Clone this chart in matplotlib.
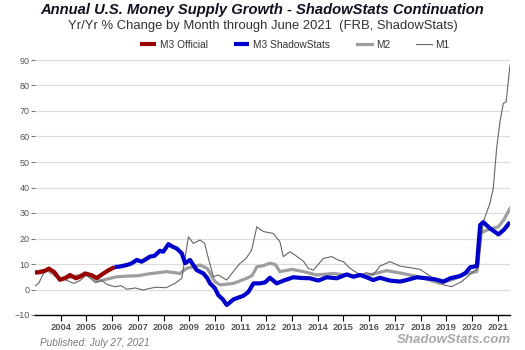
import matplotlib
matplotlib.use("Agg")
from matplotlib import pyplot

pyplot.rcParams['font.family'] = ['Liberation Sans', 'DejaVu Sans']

# values (decimal year, yr/yr %)
m3_official_x = [2003.0, 2003.2, 2003.4, 2003.54, 2003.75, 2003.97, 2004.2, 2004.36,
                 2004.6, 2004.78, 2004.95, 2005.2, 2005.4, 2005.65, 2005.85, 2006.1]
m3_official_y = [6.6, 6.8, 7.4, 8.2, 6.8, 3.8, 4.6, 5.7, 4.4, 5.2, 6.3, 5.6, 4.5, 6.2, 7.5, 8.8]

m3_shadow_x = [2006.1, 2006.3, 2006.57, 2006.75, 2006.96, 2007.15, 2007.3, 2007.47, 2007.65,
               2007.86, 2007.99, 2008.19, 2008.35, 2008.51, 2008.71, 2008.84, 2009.03, 2009.29,
               2009.55, 2009.7, 2009.81, 2010.0, 2010.13, 2010.3, 2010.46, 2010.72, 2010.9,
               2011.1, 2011.3, 2011.5, 2011.75, 2011.95, 2012.14, 2012.4, 2012.7, 2013.05,
               2013.4, 2013.7, 2014.02, 2014.35, 2014.74, 2015.13, 2015.39, 2015.65, 2015.9,
               2016.16, 2016.42, 2016.81, 2017.2, 2017.46, 2017.85, 2018.24, 2018.56, 2018.89,
               2019.15, 2019.54, 2019.75, 2019.93, 2020.19, 2020.32, 2020.44, 2020.7, 2021.03,
               2021.25, 2021.48]
m3_shadow_y = [8.8, 9.0, 9.6, 10.2, 11.6, 10.9, 11.8, 12.9, 13.2, 15.2, 14.8, 17.8, 16.8, 16.1,
               14.2, 10.3, 11.6, 7.6, 6.3, 4.5, 2.4, 0.5, -2.2, -3.8, -6.1, -3.9, -3.2, -2.5,
               -1.0, 2.4, 2.4, 2.8, 4.6, 2.4, 3.6, 4.8, 4.5, 4.4, 3.5, 4.8, 4.4, 5.9, 5.0, 5.7,
               4.8, 3.7, 4.6, 3.5, 3.1, 3.7, 4.8, 4.4, 4.0, 3.1, 4.4, 5.3, 6.5, 8.7, 9.2, 25.3,
               26.4, 24.0, 21.6, 23.5, 26.4]

m2_x = [2003.0, 2003.5, 2003.97, 2004.5, 2004.95, 2005.2, 2005.4, 2005.65, 2006.18, 2006.7,
        2007.0, 2007.47, 2008.12, 2008.64, 2008.9, 2009.42, 2009.7, 2010.0, 2010.2, 2010.72,
        2011.24, 2011.45, 2011.63, 2011.9, 2012.14, 2012.35, 2012.53, 2013.0, 2013.45,
        2013.96, 2014.6, 2015.39, 2016.0, 2016.68, 2017.3, 2018.0, 2018.76, 2019.28, 2019.8,
        2020.19, 2020.32, 2020.58, 2021.03, 2021.25, 2021.48]
m2_y = [7.0, 7.6, 4.2, 5.0, 6.0, 5.0, 3.4, 3.7, 5.0, 5.3, 5.4, 6.2, 7.0, 6.3, 8.3, 9.6, 8.3,
        3.1, 1.8, 2.4, 4.4, 5.5, 8.9, 9.4, 10.3, 9.8, 7.0, 7.9, 7.0, 5.7, 6.3, 5.3, 5.7, 7.4,
        6.3, 4.8, 2.4, 4.0, 6.3, 7.0, 22.0, 23.3, 24.6, 27.5, 31.8]

m1_x = [2003.0, 2003.15, 2003.33, 2003.55, 2003.75, 2004.0, 2004.25, 2004.5, 2004.75, 2005.0,
        2005.2, 2005.35, 2005.6, 2005.8, 2006.1, 2006.35, 2006.57, 2006.9, 2007.2, 2007.45,
        2007.7, 2008.1, 2008.45, 2008.71, 2008.97, 2009.16, 2009.42, 2009.6, 2009.75,
        2009.94, 2010.13, 2010.46, 2010.75, 2010.98, 2011.2, 2011.43, 2011.63, 2011.75,
        2011.9, 2012.27, 2012.53, 2012.66, 2012.92, 2013.2, 2013.45, 2013.63, 2013.83,
        2014.22, 2014.55, 2014.8, 2015.0, 2015.26, 2015.65, 2015.9, 2016.16, 2016.42,
        2016.81, 2017.2, 2017.5, 2017.98, 2018.5, 2018.89, 2019.21, 2019.6, 2020.05,
        2020.25, 2020.44, 2020.7, 2020.83, 2020.96, 2021.09, 2021.22, 2021.33, 2021.48]
m1_y = [1.4, 2.5, 6.3, 8.0, 6.5, 4.4, 3.5, 2.4, 3.5, 5.7, 4.0, 2.7, 3.5, 2.0, 1.1, 1.5, 0.1,
        0.6, -0.2, 0.4, 0.9, 0.7, 2.4, 4.4, 20.7, 18.1, 19.4, 18.1, 12.0, 5.0, 5.7, 3.7, 7.5,
        10.3, 12.0, 15.5, 24.6, 23.6, 22.7, 22.0, 18.7, 12.9, 14.8, 12.9, 11.0, 8.3, 7.6,
        12.2, 12.9, 11.5, 10.9, 8.3, 5.7, 6.6, 5.7, 9.2, 10.9, 9.2, 8.7, 7.9, 4.4, 1.8, 1.1,
        3.1, 7.0, 8.3, 26.6, 33.8, 39.7, 55.4, 65.8, 73.0, 73.6, 88.0]

years = list(range(2004, 2022))
yticks = list(range(-10, 91, 10))


def main():
    fig = pyplot.figure(figsize=(5.25, 3.5), dpi=100)
    ax = fig.add_axes([35 / 525, 35 / 350, 475 / 525, 255 / 350])

    ax.plot(m1_x, m1_y, color="#666666", lw=0.8, zorder=3, label="M1")
    ax.plot(m2_x, m2_y, color="#9e9e9e", lw=2.3, zorder=2, label="M2")
    ax.plot(m3_official_x, m3_official_y, color="#990000", lw=3.0, zorder=4,
            solid_capstyle="butt", label="M3 Official")
    ax.plot(m3_shadow_x, m3_shadow_y, color="#0000cc", lw=3.0, zorder=4,
            solid_capstyle="butt", label="M3 ShadowStats")

    ax.set_xlim(2003.0, 2021.48)
    ax.set_ylim(-10, 90)
    ax.set_yticks(yticks)
    ax.set_xticks(years)
    ax.set_xticklabels([str(y) for y in years], fontsize=6.7, fontweight="bold",
                       color="#555555")
    ax.tick_params(axis="y", labelsize=6.5, labelcolor="#555555", color="#777777",
                   length=3, width=0.8, pad=1)
    ax.tick_params(axis="x", length=4, width=0.8, color="black", pad=1.5)
    ax.grid(axis="y", color="#dddddd", lw=0.9, zorder=0)
    ax.set_axisbelow(True)
    for s in ["top", "right", "left"]:
        ax.spines[s].set_visible(False)
    ax.spines["bottom"].set_color("black")
    ax.spines["bottom"].set_linewidth(1.0)

    fig.text(0.5, 340 / 350, "Annual U.S. Money Supply Growth - ShadowStats Continuation",
             ha="center", va="center", fontsize=10.6, fontweight="bold", style="italic",
             color="#111122")
    fig.text(0.5, 324 / 350, "Yr/Yr % Change by Month through June 2021  (FRB, ShadowStats)",
             ha="center", va="center", fontsize=9.4, color="#333333")

    handles, labels = ax.get_legend_handles_labels()
    order = [2, 3, 1, 0]
    leg = fig.legend([handles[i] for i in order], [labels[i] for i in order],
                     loc="center", bbox_to_anchor=(295 / 525, 305 / 350), ncol=4,
                     frameon=False, fontsize=7.3, handlelength=1.5, handletextpad=0.4,
                     columnspacing=2.6)
    for t in leg.get_texts():
        t.set_color("#333333")

    fig.text(40 / 525, 7 / 350, "Published: July 27, 2021", ha="left", va="center",
             fontsize=7.2, style="italic", color="#777777")
    fig.text(511 / 525, 10 / 350, "ShadowStats.com", ha="right", va="center",
             fontsize=9.5, style="italic", fontweight="bold", color="#aaaaaa")

    fig.savefig("out.png", dpi=100)


main()
